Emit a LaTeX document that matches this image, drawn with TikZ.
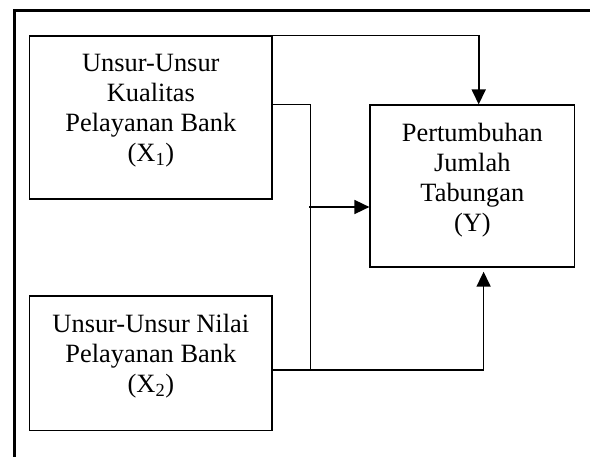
\documentclass[tikz,border=0pt]{standalone}
\usepackage{fontspec}
\setmainfont{Liberation Serif}
\usetikzlibrary{arrows.meta,positioning}

\begin{document}
\begin{tikzpicture}[
		x=1pt, y=1pt,
		box/.style={draw, line width=1.2pt, inner sep=0pt},
		lbl/.style={align=center, inner sep=0pt, font=\fontsize{26.4}{30}\selectfont},
		conn/.style={black, line width=1.2pt},
		arr/.style={black, line width=1.7pt, -{Triangle[length=15pt,width=14pt]}},
		frame/.style={black, line width=2.4pt}
		]
		
		\useasboundingbox (0,0) rectangle (590,456);
		\clip (0,0) rectangle (590,456);
		
		% bingkai luar
		\draw[frame] (14.3,-10) |- (600,445.3);
		
		% kotak variabel
		\node[box, minimum width=242.3pt, minimum height=163pt] (x1) at (150.85,338.5) {};
		\node[box, minimum width=242.3pt, minimum height=134.7pt] (x2) at (150.85,92.65) {};
		\node[box, minimum width=204.7pt, minimum height=162pt] (y) at (472.35,270) {};
		
		% teks
		\node[lbl, below=19pt of x1.north] (tx1) {Unsur-Unsur\\Kualitas\\Pelayanan Bank\\(X\textsubscript{1})};
		\node[lbl, below=19pt of x2.north] (tx2) {Unsur-Unsur Nilai\\Pelayanan Bank\\(X\textsubscript{2})};
		\node[lbl, below=18.3pt of y.north] (ty) {Pertumbuhan\\Jumlah\\Tabungan\\(Y)};
		
		% titik cabang
		\coordinate (j1) at (310.5,351.7);
		\coordinate (j2) at (310.5,86);
		\coordinate (jm) at (310.5,249);
		\coordinate (b1) at (483.6,86);
		\coordinate (b2) at (483.6,184.3);
		
		% garis penghubung
		\draw[arr] (x1.north east) -| ([xshift=6.35pt]y.north);
		\draw[conn] (x1.east |- j1) -- (j1) -- (j2);
		\draw[conn] (x2.east |- j2) -- (j2);
		\draw[arr] ([xshift=-1.5pt]jm) -- (y.west |- jm);
		\draw[arr] (j2) -- (b1) -- (b2);
		
	\end{tikzpicture}
\end{document}
